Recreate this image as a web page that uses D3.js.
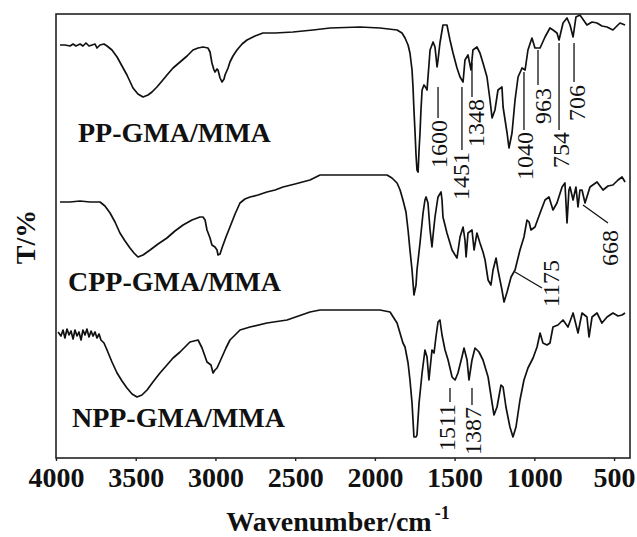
<!DOCTYPE html>
<html>
<head>
<meta charset="utf-8">
<script src="https://cdn.jsdelivr.net/npm/d3@7/dist/d3.min.js"></script>
<style>
  html, body { margin: 0; padding: 0; background: #fff; }
  svg { display: block; }
  text { font-family: "Liberation Serif", "Times New Roman", serif; fill: #111; }
</style>
</head>
<body>
<svg id="chart" width="637" height="537"></svg>
<script>
// FTIR spectra, stacked: [wavenumber (cm-1), transmittance (offset, a.u.)]
const seriesNames = ["PP-GMA/MMA", "CPP-GMA/MMA", "NPP-GMA/MMA"];

const ppSpectrum = [
  [3975,103.25],[3944,103.25],[3912,103],[3893,103.5],[3875,103],[3849,103.5],[3831,103],
  [3812,103.75],[3793,103],[3774,103.25],[3755,103.5],[3743,102.5],[3724,103.25],[3699,103.5],
  [3680,103],[3649,102],[3617,100.25],[3586,98],[3555,95.75],[3517,92.5],[3486,91],[3454,90.25],
  [3423,90.75],[3398,91.5],[3367,92.75],[3335,94.25],[3304,95.75],[3266,97.5],[3222,99],
  [3178,100.5],[3141,102],[3109,102.5],[3078,102.75],[3047,102.5],[3034,101.5],[3022,98.75],
  [3009,97],[3003,96.5],[2990,97.25],[2984,97],[2971,95],[2959,94],[2946,94.75],[2940,95.75],
  [2921,97.5],[2909,99],[2890,100.5],[2865,102],[2833,103.5],[2802,104.5],[2752,105.5],
  [2702,106.25],[2626,106.25],[2514,106.5],[2388,107],[2281,107.5],[2093,107.75],[1968,107.5],
  [1861,107],[1830,106.25],[1811,105],[1792,103.25],[1780,101.25],[1767,97],[1761,92.75],
  [1755,87],[1748,81.25],[1742,75.75],[1736,72],[1729,71.5],[1723,77],[1717,81.25],[1711,87],
  [1704,92],[1692,93.25],[1679,92.5],[1673,92],[1661,98.25],[1654,102],[1635,104],[1623,102.75],
  [1610,97.75],[1604,99.5],[1592,103.75],[1573,108.25],[1548,108.25],[1529,104.5],[1510,101.25],
  [1485,97.5],[1466,95.25],[1447,94],[1435,99.5],[1416,100.75],[1397,97],[1385,102],[1360,102.75],
  [1341,101.25],[1322,98.75],[1297,95.25],[1278,89.5],[1265,85],[1247,87],[1228,92],[1203,92.75],
  [1196,87.75],[1171,81.25],[1159,77.5],[1140,81.25],[1121,89.5],[1102,95.25],[1077,97.5],
  [1058,97],[1040,102],[1015,105],[996,102.5],[964,102.5],[933,105.25],[902,107.5],[883,107],
  [858,106.25],[845,104.5],[820,108.75],[795,110],[776,108.25],[757,105.25],[739,110.25],
  [714,110.75],[670,108.25],[638,109],[607,108.75],[576,108],[544,107.75],[507,107],[482,108],
  [463,108.75],[431,108.25]
];

const cppSpectrum = [
  [3975,64],[3912,64],[3849,64.25],[3787,64],[3724,64],[3693,63],[3661,61.25],[3630,59],
  [3599,56.25],[3567,54.25],[3536,52.5],[3511,51.25],[3486,50.25],[3454,50.75],[3410,52],
  [3360,53.5],[3304,55],[3254,56.75],[3203,58.25],[3147,59.5],[3097,60.25],[3078,60.25],
  [3065,59.5],[3053,57],[3034,55],[3022,53.25],[3003,52.75],[2990,52],[2984,50.75],[2971,51],
  [2959,52.5],[2934,55.25],[2909,57.75],[2877,61],[2846,63.75],[2815,64.75],[2783,65.25],
  [2733,65.75],[2677,66.5],[2626,67],[2576,67.75],[2501,68.5],[2407,69.5],[2344,70.75],
  [2219,70.75],[1924,70.75],[1893,70],[1861,68.75],[1842,67],[1824,64.5],[1805,61.5],[1792,57],
  [1780,52],[1767,47],[1755,40.75],[1742,43.25],[1736,47],[1717,53.75],[1698,61.25],[1686,64.5],
  [1679,65.25],[1667,63.75],[1654,57],[1642,52.75],[1635,55.75],[1623,60.25],[1610,63.75],
  [1604,65.25],[1585,66.5],[1579,64.5],[1573,60.25],[1548,56.25],[1516,52],[1497,50.75],
  [1485,50],[1466,55.25],[1447,57.75],[1435,54.5],[1428,50.25],[1416,56.25],[1391,57],[1378,52],
  [1360,56.25],[1341,53.75],[1322,51.5],[1309,49.5],[1290,44.5],[1272,43.25],[1259,47],[1240,50],
  [1228,47],[1203,42],[1190,39],[1171,41.5],[1146,45.25],[1121,47],[1090,52],[1065,55.25],
  [1046,59.5],[1033,59],[1021,57],[996,57.75],[964,61.25],[933,64.5],[908,65.25],[883,62],
  [858,63.75],[826,67.75],[808,68.75],[795,58.75],[783,67],[776,67.75],[757,64.5],[739,67.75],
  [726,62.75],[714,67],[701,67],[682,63.75],[651,67.75],[607,69],[569,67],[538,68],[507,68.25],
  [475,69.5],[450,70.25],[431,69]
];

const nppSpectrum = [
  [3987,31.5],[3969,30.5],[3956,32],[3944,30],[3931,32.25],[3918,30.75],[3906,31.75],[3893,29.75],
  [3881,32],[3868,30.5],[3856,31.5],[3843,29.5],[3831,32],[3818,30.75],[3806,32.25],[3793,30.25],
  [3780,31.75],[3768,30.5],[3755,31.5],[3743,30],[3730,31],[3718,29.5],[3699,28.75],[3680,27],
  [3649,24],[3617,21.25],[3586,19.25],[3555,17.5],[3523,16],[3492,15.25],[3461,15.75],[3429,17],
  [3392,19],[3348,21.25],[3304,23.25],[3266,25],[3222,26.5],[3160,29],[3109,29.5],[3084,27.5],
  [3053,24],[3028,23.25],[3015,21.25],[3003,22],[2990,22.5],[2959,25.25],[2934,27.5],[2909,29.5],
  [2877,30.75],[2846,32],[2783,32.75],[2677,33.75],[2551,34.5],[2407,36.5],[2344,37],[1968,37],
  [1905,36.5],[1861,33.75],[1824,28.75],[1811,27.75],[1792,23.75],[1780,19.5],[1767,13.75],
  [1755,5.25],[1742,5.25],[1736,5.75],[1723,13.75],[1704,21.25],[1686,27],[1673,25.25],
  [1661,19.5],[1642,27],[1629,26.25],[1617,30.25],[1604,34],[1592,34.5],[1579,30.75],[1560,27],
  [1541,24.5],[1516,20.25],[1497,19.5],[1479,21.25],[1454,25.25],[1441,27.5],[1422,24.5],
  [1410,19.5],[1391,24.5],[1372,27.5],[1347,26.5],[1322,24.5],[1290,20.25],[1265,13.75],
  [1253,10.75],[1234,12.75],[1209,18.25],[1196,17.75],[1178,12.75],[1153,7.75],[1134,5.25],
  [1115,7.75],[1090,14.5],[1065,19.5],[1040,22.5],[1008,25],[983,27.75],[964,31.25],[946,28.75],
  [921,28.25],[902,28.75],[883,32.75],[852,33.25],[820,34.5],[789,32.75],[757,36.25],[726,31.25],
  [701,36.25],[670,35.25],[657,30.25],[638,35.25],[607,36.25],[576,33.75],[544,35.25],[507,36.25],
  [475,35.5],[450,35.75],[431,36.25]
];

const xTicks = [4000, 3500, 3000, 2500, 2000, 1500, 1000, 500];

// Band assignments: leader line (x1,v1)->(x2,v2), label end placed at (tx,tv)
const ppBands = [
  { label: "1600", x1: 1604, v1: 92.75, x2: 1604, v2: 85,   tx: 1600, tv: 84.5 },
  { label: "1451", x1: 1454, v1: 92.75, x2: 1454, v2: 77,   tx: 1460, tv: 76.5 },
  { label: "1348", x1: 1391, v1: 98.75, x2: 1391, v2: 90.25, tx: 1366, tv: 89.75 },
  { label: "1040", x1: 1065, v1: 96.5,  x2: 1065, v2: 82,   tx: 1058, tv: 81.5 },
  { label: "963",  x1: 977,  v1: 102,   x2: 977,  v2: 93.25, tx: 950, tv: 92.5 },
  { label: "754",  x1: 845,  v1: 103.75, x2: 845, v2: 82,   tx: 838, tv: 81.5 },
  { label: "706",  x1: 751,  v1: 103.75, x2: 751, v2: 94,   tx: 738, tv: 93.25 }
];
const cppBands = [
  { label: "1175", x1: 1121, v1: 46.5,  x2: 952, v2: 42.5,  tx: 895, tv: 49.5 },
  { label: "668",  x1: 695,  v1: 63.25, x2: 538, v2: 58.75, tx: 526, tv: 57 }
];
const nppBands = [
  { label: "1511", x1: 1529, v1: 17.5, x2: 1529, v2: 14,    tx: 1548, tv: 13.5 },
  { label: "1387", x1: 1391, v1: 17.5, x2: 1391, v2: 13.25, tx: 1385, tv: 12.75 }
];

const svg = d3.select("#chart");
const plot = { left: 56, right: 630, top: 14, bottom: 458 };

const x = d3.scaleLinear().domain([4000, 400]).range([plot.left, plot.right]);
const y = d3.scaleLinear().domain([0, 111]).range([plot.bottom, plot.top]);

// spectra
const line = d3.line().x(d => x(d[0])).y(d => y(d[1]));
[ppSpectrum, cppSpectrum, nppSpectrum].forEach(s => {
  svg.append("path")
    .datum(s)
    .attr("d", line)
    .attr("fill", "none")
    .attr("stroke", "#111")
    .attr("stroke-width", 1.7)
    .attr("stroke-linejoin", "round");
});

// frame
svg.append("rect")
  .attr("x", plot.left).attr("y", plot.top)
  .attr("width", plot.right - plot.left).attr("height", plot.bottom - plot.top)
  .attr("fill", "none").attr("stroke", "#222").attr("stroke-width", 1.6);

// bottom axis
const xAxis = svg.append("g")
  .attr("transform", `translate(0,${plot.bottom})`)
  .call(d3.axisBottom(x).tickValues(xTicks).tickSize(3).tickPadding(6).tickFormat(d3.format("d")));
xAxis.select(".domain").remove();
xAxis.selectAll(".tick line").attr("stroke", "#222").attr("stroke-width", 1.4);
xAxis.selectAll(".tick text")
  .style("font-family", '"Liberation Serif", "Times New Roman", serif')
  .style("font-size", "28px").style("font-weight", "bold").attr("fill", "#111");

// axis titles
const xt = svg.append("text")
  .attr("x", 338).attr("y", 531)
  .attr("text-anchor", "middle")
  .style("font-size", "28px").style("font-weight", "bold");
xt.append("tspan").text("Wavenumber/cm");
xt.append("tspan").attr("dy", -12).attr("dx", 3).style("font-size", "18px").text("-1");

svg.append("text")
  .attr("transform", "translate(35,237) rotate(-90)")
  .attr("text-anchor", "middle")
  .style("font-size", "28px").style("font-weight", "bold")
  .text("T/%");

// series names
const nameAt = [[3862, 79], [3925, 41.75], [3900, 7.75]];
seriesNames.forEach((n, i) => {
  svg.append("text")
    .attr("x", x(nameAt[i][0])).attr("y", y(nameAt[i][1]))
    .style("font-size", "28px").style("font-weight", "bold")
    .text(n);
});

// band labels
[ppBands, cppBands, nppBands].forEach(bands => {
  bands.forEach(b => {
    svg.append("line")
      .attr("x1", x(b.x1)).attr("y1", y(b.v1))
      .attr("x2", x(b.x2)).attr("y2", y(b.v2))
      .attr("stroke", "#111").attr("stroke-width", 1.3);
    svg.append("text")
      .attr("transform", `translate(${x(b.tx)},${y(b.tv)}) rotate(-90)`)
      .attr("text-anchor", "end")
      .attr("dy", "0.35em")
      .style("font-size", "24px")
      .text(b.label);
  });
});
</script>
</body>
</html>
